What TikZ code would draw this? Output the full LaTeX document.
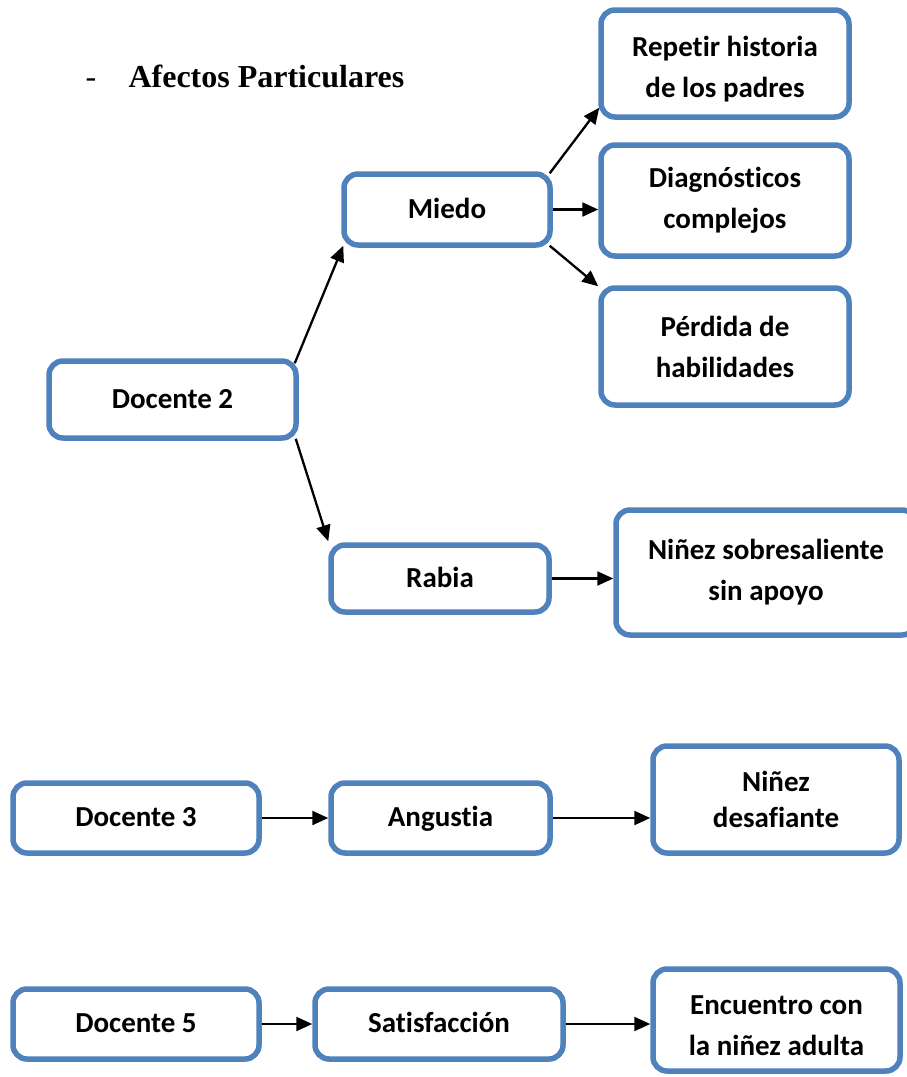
\documentclass[tikz,border=0pt]{standalone}
\usepackage{fontspec}
\setmainfont{Carlito}[Ligatures={NoCommon}]
\newfontfamily\titlefont{Liberation Serif}
\usetikzlibrary{arrows.meta,calc}
\definecolor{boxblue}{HTML}{4F81BD}
% raise the first line of a box's text so the block sits lower
\newcommand{\toppad}[1]{\rule{0pt}{#1}}
\begin{document}
\begin{tikzpicture}[x=1pt,y=-1pt,
  box/.style={draw=boxblue, line width=5.5pt, rounded corners=14pt, fill=white,
    inner sep=0pt, align=center, font=\fontsize{29}{41}\selectfont\bfseries},
  oneline/.style={text height=20pt, text depth=3pt},
  link/.style={line width=2.3pt, -{Triangle[length=16pt,width=14pt]}}]
\path[use as bounding box] (0,0) rectangle (907,1077);

% heading
\node[anchor=base west, font=\titlefont\fontsize{32}{36}\selectfont] (dash) at (82,87) {-};
\node[anchor=base west, font=\titlefont\fontsize{32}{36}\selectfont\bfseries] (title) at (125,87) {Afectos Particulares};

% Docente 2 branch
\node[box, oneline, minimum width=247pt, minimum height=77pt] (d2) at (172.5,399.5) {Docente 2};
\node[box, oneline, minimum width=206pt, minimum height=71pt] (miedo) at (447,209.5) {Miedo};
\node[box, oneline, minimum width=218pt, minimum height=67pt] (rabia) at (440,578.5) {Rabia};
\node[box, minimum width=248pt, minimum height=107pt] (rep) at (725,63.5) {\toppad{32pt}Repetir historia\\de los padres};
\node[box, minimum width=248pt, minimum height=111pt] (diag) at (725,200.5) {Diagnósticos\\complejos};
\node[box, minimum width=248pt, minimum height=117pt] (perd) at (725,346.5) {Pérdida de\\habilidades};
\node[box, minimum width=300pt, minimum height=125pt] (sobre) at (766,572.5) {Niñez sobresaliente\\sin apoyo};

% Docente 3 row
\node[box, oneline, minimum width=246pt, minimum height=70pt] (d3) at (136,818) {Docente 3};
\node[box, oneline, minimum width=219pt, minimum height=70pt] (ang) at (440.5,818) {Angustia};
\node[box, font=\fontsize{29}{36}\selectfont\bfseries, minimum width=246pt, minimum height=107pt] (desaf) at (776,799.5) {Niñez\\desafiante};

% Docente 5 row
\node[box, oneline, minimum width=246pt, minimum height=70pt] (d5) at (136,1024) {Docente 5};
\node[box, oneline, minimum width=248pt, minimum height=70pt] (sat) at (439,1024) {Satisfacción};
\node[box, minimum width=247pt, minimum height=102pt] (enc) at (776.5,1020) {\toppad{30pt}Encuentro con\\la niñez adulta};

% connectors
\draw[link] ($(d2.north east)+(-4,5)$) -- ($(miedo.south west)+(2,-2)$);
\draw[link] ($(d2.south east)+(-3,-2)$) -- ($(rabia.north west)+(0,-1)$);
\draw[link] ($(miedo.north east)+(-3,2)$) -- ($(rep.south west)+(1,-12)$);
\draw[link] (miedo.east) -- (diag.west |- miedo.east);
\draw[link] ($(miedo.south east)+(-3,-2)$) -- ($(perd.north west)+(0,1)$);
\draw[link] (rabia.east) -- (sobre.west |- rabia.east);
\draw[link] (d3.east) -- (ang.west);
\draw[link] (ang.east) -- (desaf.west |- ang.east);
\draw[link] (d5.east) -- (sat.west);
\draw[link] (sat.east) -- (enc.west |- sat.east);
\end{tikzpicture}
\end{document}
